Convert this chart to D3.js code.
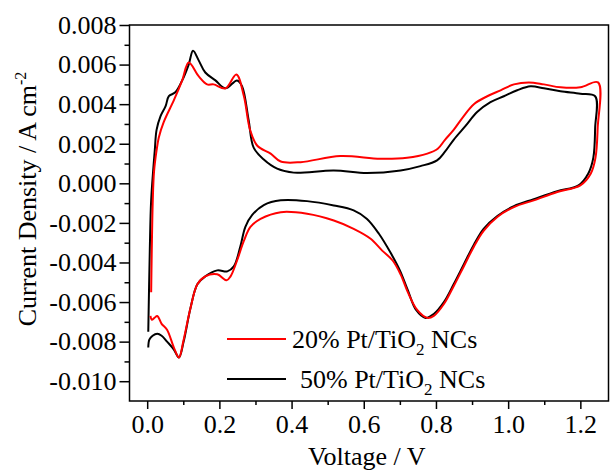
<!DOCTYPE html>
<html>
<head>
<meta charset="utf-8">
<script src="https://cdn.jsdelivr.net/npm/d3@7"></script>
<style>
  html, body { margin: 0; padding: 0; background: #fff; }
  svg { display: block; }
  text { font-family: "Liberation Serif", "Times New Roman", serif; fill: #000; }
</style>
</head>
<body>
<svg id="chart" width="610" height="472"></svg>
<script>
// ---- data (Voltage in V, current density in A cm^-2) ----
const seriesNames = ["20% Pt/TiO2 NCs", "50% Pt/TiO2 NCs"];
const seriesColors = ["#ff0000", "#000000"];

const voltage20 = [0.011,0.0127,0.0155,0.019,0.026,0.032,0.046,0.074,0.097,0.115,0.143,0.166,0.184,0.217,0.247,0.268,0.285,0.305,0.342,0.37,0.425,0.535,0.646,0.72,0.776,0.805,0.825,0.849,0.877,0.905,0.942,0.979,1.016,1.057,1.099,1.145,1.2,1.249,
  1.248,1.242,1.229,1.2,1.136,1.071,1.016,0.97,0.932,0.905,0.877,0.849,0.822,0.794,0.776,0.748,0.722,0.702,0.68,0.651,0.619,0.572,0.517,0.443,0.37,0.314,0.286,0.268,0.249,0.231,0.22,0.194,0.161,0.139,0.12,0.101,0.088,0.074,0.055,0.04,0.028,0.02,0.013,0.009];
const current20 = [-0.0055,-0.0034,-0.00086,0.0006,0.00166,0.0023,0.0031,0.0042,0.0052,0.0061,0.0054,0.0050,0.0050,0.0048,0.0055,0.0044,0.0027,0.0019,0.0015,0.0011,0.00107,0.00138,0.00124,0.00129,0.0015,0.00175,0.0022,0.0027,0.0034,0.0040,0.0044,0.0047,0.0050,0.0051,0.0050,0.00485,0.00485,0.0051,
  0.0028,0.0013,0.0005,-0.0001,-0.00044,-0.00086,-0.0012,-0.0017,-0.0024,-0.0032,-0.0042,-0.0052,-0.0061,-0.0067,-0.0068,-0.0064,-0.0055,-0.0046,-0.0039,-0.0034,-0.0028,-0.0023,-0.00188,-0.00154,-0.00146,-0.0018,-0.0022,-0.0029,-0.0039,-0.0047,-0.0049,-0.0046,-0.0047,-0.0051,-0.0063,-0.0079,-0.0088,-0.0083,-0.0074,-0.0071,-0.0067,-0.0068,-0.0069,-0.0067];

const voltage50 = [0.003,0.0072,0.011,0.021,0.026,0.037,0.051,0.06,0.078,0.097,0.115,0.127,0.143,0.161,0.189,0.217,0.249,0.263,0.281,0.295,0.323,0.36,0.406,0.517,0.609,0.702,0.757,0.803,0.825,0.849,0.882,0.914,0.951,0.988,1.025,1.062,1.099,1.145,1.2,1.241,
  1.241,1.236,1.222,1.195,1.136,1.071,1.016,0.97,0.932,0.905,0.877,0.849,0.822,0.794,0.771,0.745,0.722,0.70,0.674,0.642,0.609,0.572,0.517,0.443,0.37,0.323,0.291,0.272,0.258,0.24,0.222,0.194,0.161,0.139,0.12,0.101,0.088,0.074,0.055,0.04,0.028,0.015,0.006,0.003];
const current50 = [-0.0075,-0.0034,-0.00086,0.00166,0.0027,0.0034,0.0039,0.0044,0.0046,0.0052,0.0060,0.0067,0.0062,0.0056,0.0052,0.0048,0.0052,0.0049,0.0032,0.0018,0.0012,0.00074,0.00054,0.00065,0.00052,0.00065,0.00087,0.00116,0.0016,0.0022,0.0029,0.0036,0.0041,0.0044,0.0047,0.0049,0.0048,0.00465,0.00453,0.0044,
  0.0028,0.0013,0.0005,-0.0001,-0.0004,-0.0008,-0.00115,-0.00165,-0.0023,-0.0031,-0.0041,-0.0051,-0.0060,-0.0066,-0.0068,-0.0064,-0.0054,-0.0044,-0.0035,-0.00255,-0.0018,-0.00137,-0.00112,-0.0009,-0.00086,-0.0011,-0.0016,-0.0022,-0.0032,-0.0042,-0.00445,-0.0044,-0.0047,-0.0051,-0.0063,-0.0080,-0.0088,-0.0084,-0.0080,-0.0077,-0.0076,-0.0077,-0.0079,-0.0083];

const xDomain = [-0.049, 1.278];
const yDomain = [-0.011, 0.008];
const xMajorTicks = [0.0, 0.2, 0.4, 0.6, 0.8, 1.0, 1.2];
const xMinorTicks = [0.1, 0.3, 0.5, 0.7, 0.9, 1.1];
const yMajorTicks = [-0.010, -0.008, -0.006, -0.004, -0.002, 0.000, 0.002, 0.004, 0.006, 0.008];
const yMinorTicks = [-0.009, -0.007, -0.005, -0.003, -0.001, 0.001, 0.003, 0.005, 0.007];
const xTitle = "Voltage / V";

// ---- layout ----
const mLeft = 129.5, mTop = 25, mRight = 608.5, mBottom = 401;
const svg = d3.select("#chart");
const x = d3.scaleLinear().domain(xDomain).range([mLeft, mRight]);
const y = d3.scaleLinear().domain(yDomain).range([mBottom, mTop]);

const fontSize = 26;

// curves
const seriesData = [
  d3.zip(voltage20, current20),
  d3.zip(voltage50, current50)
];
const line = d3.line().x(d => x(d[0])).y(d => y(d[1])).curve(d3.curveCatmullRom.alpha(0.5));

svg.append("defs").append("clipPath").attr("id", "clip")
  .append("rect").attr("x", mLeft).attr("y", mTop).attr("width", mRight - mLeft).attr("height", mBottom - mTop);

const plot = svg.append("g").attr("clip-path", "url(#clip)");
[1, 0].forEach(i => {
  plot.append("path").datum(seriesData[i])
    .attr("fill", "none").attr("stroke", seriesColors[i]).attr("stroke-width", 2)
    .attr("stroke-linejoin", "round").attr("d", line);
});

// axes
const yAxis = svg.append("g").attr("transform", `translate(${mLeft},0)`)
  .call(d3.axisLeft(y).tickValues(yMajorTicks).tickSize(10).tickSizeOuter(0).tickPadding(3)
    .tickFormat(d => d3.format(".3f")(d).replace("\u2212", "-")));
svg.append("g").attr("transform", `translate(${mLeft},0)`)
  .call(d3.axisLeft(y).tickValues(yMinorTicks).tickSize(5).tickSizeOuter(0).tickFormat(""));
const xAxis = svg.append("g").attr("transform", `translate(0,${mBottom})`)
  .call(d3.axisBottom(x).tickValues(xMajorTicks).tickSize(8).tickSizeOuter(0).tickPadding(6)
    .tickFormat(d3.format(".1f")));
svg.append("g").attr("transform", `translate(0,${mBottom})`)
  .call(d3.axisBottom(x).tickValues(xMinorTicks).tickSize(4).tickSizeOuter(0).tickFormat(""));

svg.selectAll(".domain").remove();
svg.selectAll(".tick line").attr("stroke", "#000").attr("stroke-width", 1.5);
svg.selectAll(".tick text").style("font-size", fontSize + "px")
  .style("font-family", '"Liberation Serif", "Times New Roman", serif').attr("fill", "#000");

// frame
svg.append("rect").attr("x", mLeft).attr("y", mTop).attr("width", mRight - mLeft).attr("height", mBottom - mTop)
  .attr("fill", "none").attr("stroke", "#000").attr("stroke-width", 1.5);

// axis titles
svg.append("text").attr("x", (x(0) + x(1.2)) / 2 + 3).attr("y", 465)
  .attr("text-anchor", "middle").style("font-size", fontSize + "px").text(xTitle);

const yt = svg.append("text").attr("transform", "translate(36,199) rotate(-90)")
  .attr("text-anchor", "middle").style("font-size", fontSize + "px");
yt.append("tspan").text("Current Density / A cm");
yt.append("tspan").attr("dy", -10).style("font-size", "16px").text("-2");

// legend
const legendItems = [
  { color: seriesColors[0], pct: "20%", ly: 339, ty: 348, tx: 292 },
  { color: seriesColors[1], pct: "50%", ly: 379, ty: 388, tx: 300 }
];
legendItems.forEach(it => {
  svg.append("line").attr("x1", 227).attr("x2", 286).attr("y1", it.ly).attr("y2", it.ly)
    .attr("stroke", it.color).attr("stroke-width", 2);
  const t = svg.append("text").attr("x", it.tx).attr("y", it.ty).style("font-size", fontSize + "px");
  t.append("tspan").text(it.pct + " Pt/TiO");
  t.append("tspan").attr("dy", 7).style("font-size", "17px").text("2");
  t.append("tspan").attr("dy", -7).text(" NCs");
});
</script>
</body>
</html>
